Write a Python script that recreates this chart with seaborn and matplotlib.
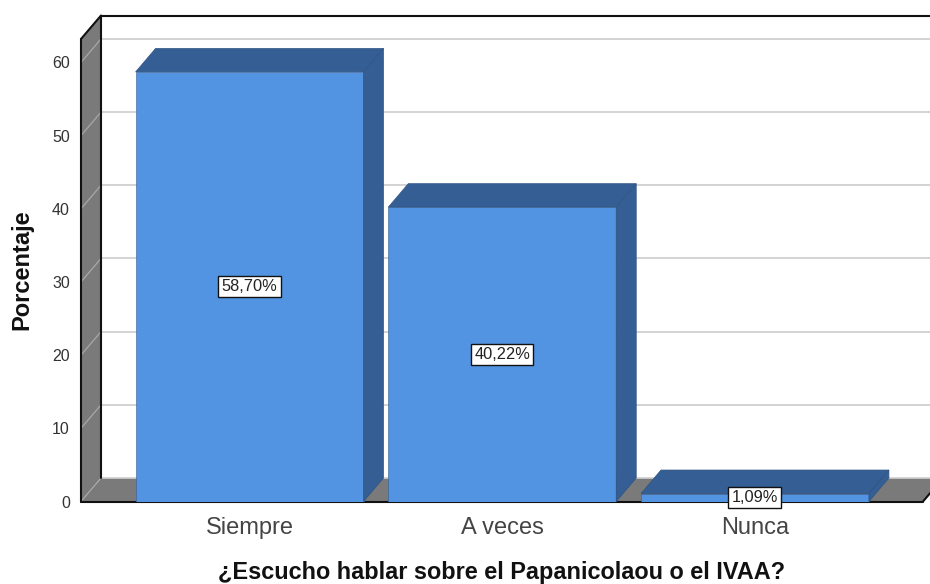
"""
Barras 3D estilo SPSS: ¿Escucho hablar sobre el Papanicolaou o el IVAA?
"""

import matplotlib
matplotlib.use('Agg')
import matplotlib.pyplot as plt
from matplotlib.patches import Polygon
import pandas as pd
import seaborn as sns

categorias = ['Siempre', 'A veces', 'Nunca']
porcentajes = [58.70, 40.22, 1.09]
etiquetas = ['58,70%', '40,22%', '1,09%']
ticks_y = [0, 10, 20, 30, 40, 50, 60]

COLOR_FRENTE = '#5294E2'
COLOR_OSCURO = '#355E94'
COLOR_PARED = '#7A7A7A'
COLOR_REJILLA = '#D0D0D0'
COLOR_TEXTO = '#333333'

# profundidad del efecto 3D, en unidades de datos
DX = 20 / 252.75
DY = 23.5 / 7.32

sns.set_style("white")
plt.rcParams['font.family'] = ['Liberation Sans', 'DejaVu Sans']

df = pd.DataFrame({'categoria': categorias, 'porcentaje': porcentajes})

fig = plt.figure(figsize=(9.3, 5.84), dpi=100)
ax = fig.add_axes([81 / 930, 1 - 501.5 / 584, (923 - 81) / 930, (501.5 - 39) / 584])

sns.barplot(data=df, x='categoria', y='porcentaje', color=COLOR_FRENTE, saturation=1,
            width=0.902, ax=ax, zorder=5, edgecolor=COLOR_OSCURO, linewidth=0.4)

ax.set_xlim(-0.667, 2.665)
ax.set_ylim(0, 63.2)
x0, x1 = ax.get_xlim()
y1 = ax.get_ylim()[1]

# pared izquierda y piso
ax.add_patch(Polygon([(x0, 0), (x0 + DX, DY), (x0 + DX, y1 + DY), (x0, y1)],
                     closed=True, fc=COLOR_PARED, ec='none', clip_on=False, zorder=1))
ax.add_patch(Polygon([(x0, 0), (x1, 0), (x1 + DX, DY), (x0 + DX, DY)],
                     closed=True, fc=COLOR_PARED, ec='none', clip_on=False, zorder=1))

# rejilla sobre la pared del fondo y la pared izquierda
for t in ticks_y[1:]:
    ax.plot([x0 + DX, x1 + DX], [t + DY, t + DY], color=COLOR_REJILLA, lw=1.3,
            clip_on=False, zorder=2, solid_capstyle='butt')
    ax.plot([x0, x0 + DX], [t, t + DY], color='#A8A8A8', lw=0.9, clip_on=False, zorder=2)
ax.plot([x0, x0 + DX], [0, DY], color='#A8A8A8', lw=0.9, clip_on=False, zorder=2)
ax.plot([x0 + DX, x1 + DX], [DY, DY], color=COLOR_REJILLA, lw=1.2, clip_on=False, zorder=2)

# bordes negros del marco
borde = dict(color='#111111', lw=1.5, clip_on=False, zorder=3)
ax.plot([x0, x0], [0, y1], **borde)
ax.plot([x0 + DX, x0 + DX], [DY, y1 + DY], **borde)
ax.plot([x0, x0 + DX], [y1, y1 + DY], **borde)
ax.plot([x0 + DX, x1 + DX + 0.1], [y1 + DY, y1 + DY], **borde)
ax.plot([x0, x1], [0, 0], **borde)
ax.plot([x1, x1 + DX], [0, DY], **borde)

# caras superior y lateral de cada barra, a partir de las barras dibujadas
for bar in list(ax.patches):
    if bar.get_zorder() != 5:
        continue
    izq = bar.get_x()
    der = izq + bar.get_width()
    alto = bar.get_height()
    ax.add_patch(Polygon([(izq, alto), (der, alto), (der + DX, alto + DY), (izq + DX, alto + DY)],
                         closed=True, fc=COLOR_OSCURO, ec='#2F5483', lw=0.5,
                         clip_on=False, zorder=5))
    ax.add_patch(Polygon([(der, 0), (der + DX, DY), (der + DX, alto + DY), (der, alto)],
                         closed=True, fc=COLOR_OSCURO, ec='#2F5483', lw=0.5,
                         clip_on=False, zorder=5))

# etiquetas de valor
for i, (valor, texto) in enumerate(zip(porcentajes, etiquetas)):
    ax.text(i, valor / 2, texto, ha='center', va='center', fontsize=11.8, color='#222222',
            zorder=8, bbox=dict(boxstyle='square,pad=0.2', fc='white', ec='#111111', lw=1.0))

sns.despine(ax=ax, left=True, bottom=True)
ax.grid(False)
ax.set_yticks(ticks_y)
ax.tick_params(axis='y', length=0, pad=8, labelsize=11.5, labelcolor=COLOR_TEXTO)
ax.tick_params(axis='x', length=0, pad=11, labelsize=17, labelcolor='#444444')

ax.set_xlabel('')
ax.set_ylabel('')
fig.text(22 / 930, 1 - 270 / 584, 'Porcentaje', rotation=90, ha='center', va='center',
         fontsize=17, fontweight='bold', color='#111111')
fig.text(501.5 / 930, 1 - 572 / 584, '¿Escucho hablar sobre el Papanicolaou o el IVAA?',
         ha='center', va='center', fontsize=16.9, fontweight='bold', color='#111111')

plt.savefig('out.png', dpi=100)
